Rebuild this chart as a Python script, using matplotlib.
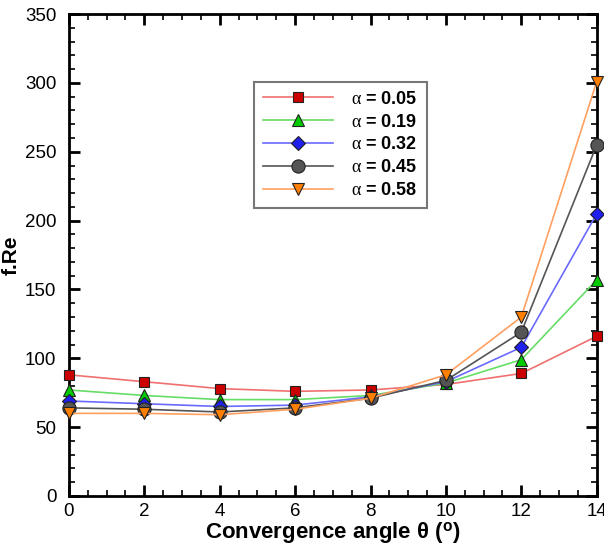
import matplotlib
matplotlib.use("Agg")
import matplotlib.pyplot as plt
from matplotlib.ticker import MultipleLocator

plt.rcParams["font.family"] = ["Liberation Sans", "DejaVu Sans"]
plt.rcParams["mathtext.fontset"] = "custom"
plt.rcParams["mathtext.rm"] = "Liberation Serif"
plt.rcParams["mathtext.it"] = "Liberation Serif:italic"
plt.rcParams["mathtext.bf"] = "Liberation Serif:bold"

theta = [0, 2, 4, 6, 8, 10, 12, 14]
alphas = ["0.05", "0.19", "0.32", "0.45", "0.58"]
fre_005 = [88, 83, 78, 76, 77, 81, 89, 116]
fre_019 = [77, 73, 70, 70, 73, 82, 99, 157]
fre_032 = [69, 67, 65, 66, 72, 83, 108, 205]
fre_045 = [64, 63, 61, 64, 71, 84, 119, 255]
fre_058 = [60, 60, 59, 63, 71, 88, 130, 301]
series = [fre_005, fre_019, fre_032, fre_045, fre_058]

line_colors = ["#f07070", "#66dd66", "#6a6aff", "#555555", "#ffa060"]
face_colors = ["#cc0000", "#00cc00", "#1f1fee", "#555555", "#ff7f00"]
markers = ["s", "^", "D", "o", "v"]
msizes = [7.5, 8, 7.5, 9.5, 8]

fig = plt.figure(figsize=(6.04, 5.46), dpi=100)
ax = fig.add_axes([0.114, 0.0916, 0.874, 0.8826])

for vals, a, lc, fc, m, ms in zip(series, alphas, line_colors, face_colors, markers, msizes):
    ax.plot(theta, vals, color=lc, lw=1.2, marker=m, markersize=ms,
            markerfacecolor=fc, markeredgecolor="#222222", markeredgewidth=0.8,
            label=r"$\mathrm{\alpha}$" + " = " + a, clip_on=False, zorder=3)

ax.set_xlim(0, 14)
ax.set_ylim(0, 350)
ax.xaxis.set_major_locator(MultipleLocator(2))
ax.xaxis.set_minor_locator(MultipleLocator(0.5))
ax.yaxis.set_major_locator(MultipleLocator(50))
ax.yaxis.set_minor_locator(MultipleLocator(10))
ax.tick_params(which="both", direction="in", top=True, right=True, labelsize=13.5)
ax.tick_params(which="major", length=8, width=2)
ax.tick_params(axis="y", which="major", pad=9)
ax.tick_params(axis="x", which="major", pad=5)
ax.tick_params(which="minor", length=4, width=1.2)
for s in ax.spines.values():
    s.set_linewidth(2)

ax.set_xlabel("Convergence angle θ ($^\\mathregular{o}$)", fontsize=16, fontweight="bold", labelpad=0)
ax.set_ylabel("f.Re", fontsize=15, fontweight="bold")
ax.yaxis.set_label_coords(-0.092, 0.5)

leg = ax.legend(loc="upper left", bbox_to_anchor=(0.35, 0.86), fancybox=False,
                edgecolor="#777777", prop={"weight": "bold", "size": 13},
                handlelength=3.9, handletextpad=1.0, labelspacing=0.33,
                borderaxespad=0, borderpad=0.5, framealpha=1)
leg.get_frame().set_linewidth(1.5)

fig.savefig("out.png", dpi=100)
